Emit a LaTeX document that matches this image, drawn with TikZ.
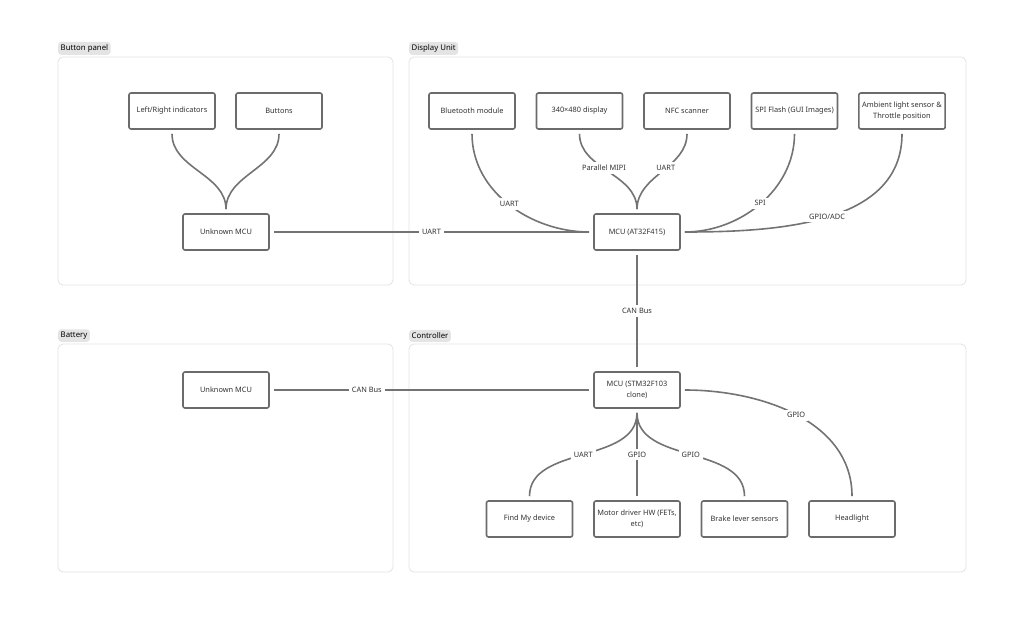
\documentclass[tikz,border=0pt]{standalone}
\usepackage{fontspec}
\setmainfont{Noto Sans}
\usetikzlibrary{positioning}

\definecolor{wirecol}{HTML}{737373}
\definecolor{boxcol}{HTML}{6B6B6B}
\definecolor{framecol}{HTML}{E2E2E2}
\definecolor{tagcol}{HTML}{E4E4E4}
\definecolor{txtcol}{HTML}{333333}

\tikzset{
  box/.style={draw=boxcol,line width=1.6pt,rounded corners=2pt,fill=white,
    minimum width=86pt,minimum height=36pt,align=center,text=txtcol,
    font=\fontsize{7.4}{10.5}\selectfont},
  frame/.style={draw=framecol,line width=0.8pt,rounded corners=5pt},
  tag/.style={fill=tagcol,rounded corners=3pt,inner sep=2.5pt,minimum height=12pt,
    text=black,font=\fontsize{7.8}{9}\selectfont,anchor=south west},
  wire/.style={draw=wirecol,line width=1.6pt,shorten >=4pt,shorten <=4pt},
  lbl/.style={fill=white,inner sep=3pt,midway,text=txtcol,font=\fontsize{7.4}{9}\selectfont}
}

\begin{document}
\begin{tikzpicture}[x=1pt,y=1pt,node distance=107.5pt,on grid]
  \useasboundingbox (0,0) rectangle (1024,630);

  % groups
  \draw[frame] (58,573) rectangle (393,345);
  \draw[frame] (409,573) rectangle (966,345);
  \draw[frame] (58,286) rectangle (393,58);
  \draw[frame] (409,286) rectangle (966,58);
  \node[tag] (tbp) at (58,575) {Button panel};
  \node[tag] (tdu) at (409,575) {Display Unit};
  \node[tag] (tba) at (58,288) {Battery};
  \node[tag] (tco) at (409,288) {Controller};

  % button panel
  \node[box] (lri)   at (172,519)  {Left/Right indicators};
  \node[box] (btn)   at (279,519)  {Buttons};
  \node[box] (bumcu) at (226,398)  {Unknown MCU};

  % display unit
  \node[box] (dmcu) at (637,398)      {MCU (AT32F415)};
  \node[box] (bt)   at (472,519)      {Bluetooth module};
  \node[box] (disp) [right =of bt]    {340×480 display};
  \node[box] (nfc)  [right =of disp]  {NFC scanner};
  \node[box] (spi)  [right =of nfc]   {SPI Flash (GUI Images)};
  \node[box] (amb)  [right =of spi]   {Ambient light sensor \&\\Throttle position};

  % battery
  \node[box] (bamcu) at (226,240) {Unknown MCU};

  % controller
  \node[box] (cmcu)  [below =158pt of dmcu]  {MCU (STM32F103\\clone)};
  \node[box] (mot)   [below =129pt of cmcu]  {Motor driver HW (FETs,\\etc)};
  \node[box] (find)  [left =of mot]          {Find My device};
  \node[box] (brake) [right =of mot]         {Brake lever sensors};
  \node[box] (head)  [right =of brake]       {Headlight};

  \path (lri)   edge [wire,out=-90,in=90] (bumcu)
        (btn)   edge [wire,out=-90,in=90] (bumcu)
        (bumcu) edge [wire] node[lbl] {UART} (dmcu)
        (bt)    edge [wire,out=-90,in=180] node[lbl] {UART} (dmcu)
        (disp)  edge [wire,out=-90,in=90] node[lbl,pos=0.45] {Parallel MIPI} (dmcu)
        (nfc)   edge [wire,out=-90,in=90] node[lbl,pos=0.45] {UART} (dmcu)
        (spi)   edge [wire,out=-90,in=0] node[lbl] {SPI} (dmcu)
        (amb)   edge [wire,out=-90,in=0] node[lbl] {GPIO/ADC} (dmcu)
        (dmcu)  edge [wire] node[lbl] {CAN Bus} (cmcu)
        (bamcu) edge [wire] node[lbl,pos=0.3] {CAN Bus} (cmcu)
        (cmcu)  edge [wire,out=0,in=90] node[lbl] {GPIO} (head)
        (cmcu)  edge [wire,out=-90,in=90] node[lbl] {UART} (find)
        (cmcu)  edge [wire] node[lbl] {GPIO} (mot)
        (cmcu)  edge [wire,out=-90,in=90] node[lbl] {GPIO} (brake);
\end{tikzpicture}
\end{document}
